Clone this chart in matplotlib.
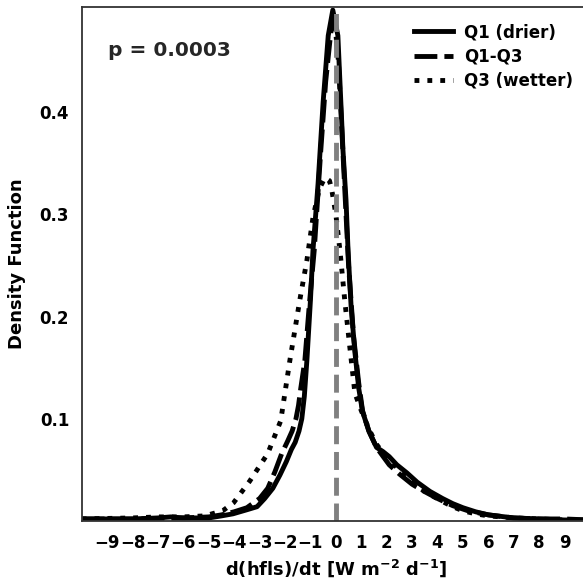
"""
Density of d(hfls)/dt for the drier and wetter quartiles
"""

import matplotlib
matplotlib.use("Agg")
import matplotlib.pyplot as plt

# values
q1_x = [-10, -9, -8, -7, -6.5, -6, -5, -4.5, -4.05, -3.5, -3.1, -2.8, -2.48,
        -2.2, -1.95, -1.75, -1.6, -1.45, -1.34, -1.24, -1.14, -1.0, -0.9,
        -0.7, -0.5, -0.3, -0.12, 0.08, 0.28, 0.4, 0.48, 0.6, 0.75, 0.9, 1.05,
        1.3, 1.6, 1.85, 2.1, 2.4, 2.8, 3.2, 3.7, 4.2, 4.6, 5.0, 5.5, 6.0,
        7.0, 8.0, 9.0, 10]
q1_y = [0.002, 0.002, 0.002, 0.003, 0.004, 0.003, 0.003, 0.005, 0.007, 0.011,
        0.014, 0.022, 0.032, 0.045, 0.058, 0.07, 0.077, 0.088, 0.1, 0.122,
        0.157, 0.216, 0.265, 0.33, 0.41, 0.475, 0.5, 0.475, 0.363, 0.314,
        0.265, 0.21, 0.165, 0.13, 0.107, 0.088, 0.072, 0.068, 0.063, 0.055,
        0.047, 0.038, 0.029, 0.022, 0.017, 0.013, 0.009, 0.006, 0.003, 0.002,
        0.001, 0.001]

q13_x = [-10, -8, -6, -5, -4.5, -4, -3.5, -3.0, -2.68, -2.4, -2.13, -1.9,
         -1.72, -1.57, -1.47, -1.38, -1.22, -1.05, -0.85, -0.6, -0.4, -0.2,
         -0.05, 0.1, 0.3, 0.5, 0.7, 0.9, 1.05, 1.3, 1.6, 2.1, 2.5, 3.0, 3.4,
         4.0, 4.6, 5.2, 6.0, 7.0, 8.0, 9.0, 10]
q13_y = [0.002, 0.002, 0.003, 0.004, 0.006, 0.009, 0.013, 0.022, 0.032,
         0.048, 0.066, 0.078, 0.088, 0.1, 0.113, 0.13, 0.157, 0.21, 0.265,
         0.36, 0.43, 0.478, 0.49, 0.45, 0.35, 0.25, 0.18, 0.135, 0.108, 0.088,
         0.072, 0.055, 0.046, 0.036, 0.03, 0.022, 0.015, 0.01, 0.006, 0.003,
         0.002, 0.002, 0.001]

q3_x = [-10, -8, -7, -6, -5.16, -4.45, -4.02, -3.39, -2.68, -2.17, -1.81,
        -1.42, -1.14, -0.9, -0.65, -0.43, -0.25, -0.16, 0.0, 0.16, 0.35,
        0.55, 0.75, 1.0, 1.3, 1.6, 2.0, 2.5, 3.0, 3.3, 3.7, 4.2, 4.6, 5.0,
        5.5, 6, 7, 8, 9, 10]
q3_y = [0.002, 0.003, 0.004, 0.004, 0.005, 0.01, 0.018, 0.039, 0.066, 0.098,
        0.157, 0.216, 0.255, 0.297, 0.325, 0.336, 0.333, 0.324, 0.3, 0.265,
        0.216, 0.17, 0.125, 0.108, 0.09, 0.075, 0.062, 0.05, 0.04, 0.032,
        0.026, 0.019, 0.014, 0.01, 0.007, 0.005, 0.003, 0.002, 0.001, 0.001]

series_labels = ["Q1 (drier)", "Q1-Q3", "Q3 (wetter)"]
x_ticks = list(range(-9, 10))
y_ticks = [0.1, 0.2, 0.3, 0.4]
p_value = 0.0003

plt.rcParams["font.family"] = "DejaVu Sans"
plt.rcParams["font.weight"] = "bold"
plt.rcParams["axes.labelweight"] = "bold"

fig = plt.figure(figsize=(5.83, 5.79), dpi=100)
ax = fig.add_axes([81.7 / 583, 58 / 579, (590 - 81.7) / 583, 514 / 579])

ax.plot(q1_x, q1_y, color="black", lw=3.5, ls="-", label=series_labels[0])
ax.plot(q13_x, q13_y, color="black", lw=3.5, dashes=(4.7, 1.45), label=series_labels[1])
ax.plot(q3_x, q3_y, color="black", lw=3.5, ls=":", label=series_labels[2])
ax.axvline(0, color="0.5", lw=3.5, ls="--")

ax.set_xlim(-10, 10)
ax.set_ylim(0, 0.503)
ax.set_xticks(x_ticks)
ax.set_yticks(y_ticks)
ax.tick_params(length=0, labelsize=12, pad=9)
for s in ax.spines.values():
    s.set_color("0.2")
    s.set_linewidth(1.3)

ax.set_xlabel(r"d(hfls)/dt [W m$^{\mathbf{-2}}$ d$^{\mathbf{-1}}$]", fontsize=13, labelpad=4)
ax.set_ylabel("Density Function", fontsize=13, labelpad=10)
ax.text(0.052, 0.916, f"p = {p_value:.4f}", transform=ax.transAxes,
        fontsize=14.5, fontweight="bold", va="center", color="0.15")

ax.legend(loc="upper right", bbox_to_anchor=(1.009, 0.986), bbox_transform=fig.transFigure,
          frameon=False, fontsize=12, handlelength=2.3, handletextpad=0.7,
          labelspacing=0.38)

fig.savefig("out.png", dpi=100)
